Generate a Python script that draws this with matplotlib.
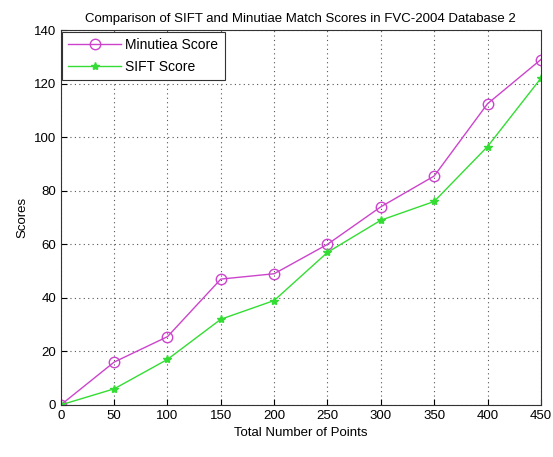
import matplotlib
matplotlib.use("Agg")
import matplotlib.pyplot as plt

plt.rcParams['font.family'] = ['Liberation Sans', 'DejaVu Sans']

# dados
pontos = [0, 50, 100, 150, 200, 250, 300, 350, 400, 450]
minutiae = [0, 16, 25.5, 47, 49, 60, 74, 85.5, 112.5, 129]
sift = [0, 6, 17, 32, 39, 57, 69, 76, 96.5, 122]

fig = plt.figure(figsize=(5.53, 4.57), dpi=100)
ax = fig.add_axes([0.110, 0.114, 0.868, 0.820])

ax.plot(pontos, minutiae, color='#cc44cc', marker='o', markersize=7.5,
        markerfacecolor='none', markeredgewidth=1, linewidth=1, label='Minutiea Score')
ax.plot(pontos, sift, color='#33dd33', marker='*', markersize=6,
        linewidth=1, label='SIFT Score')

ax.set_xlim(0, 450)
ax.set_ylim(0, 140)
ax.set_xticks(pontos)
ax.set_yticks(range(0, 141, 20))
ax.grid(True, linestyle=(0, (1, 3)), color='#555555', linewidth=0.8)
ax.tick_params(direction='in', labelsize=9.5, length=4)
for s in ax.spines.values():
    s.set_color('#333333')

ax.set_title('Comparison of SIFT and Minutiae Match Scores in FVC-2004 Database 2', fontsize=9.5)
ax.set_xlabel('Total Number of Points', fontsize=9.5)
ax.set_ylabel('Scores', fontsize=9.5)

leg = ax.legend(loc='upper left', fontsize=10, fancybox=False, framealpha=1,
                edgecolor='#333333', borderaxespad=0.1, handlelength=3.8,
                handletextpad=0.3, borderpad=0.45, labelspacing=0.6)
leg.get_frame().set_linewidth(0.8)

plt.savefig('out.png', dpi=100)
